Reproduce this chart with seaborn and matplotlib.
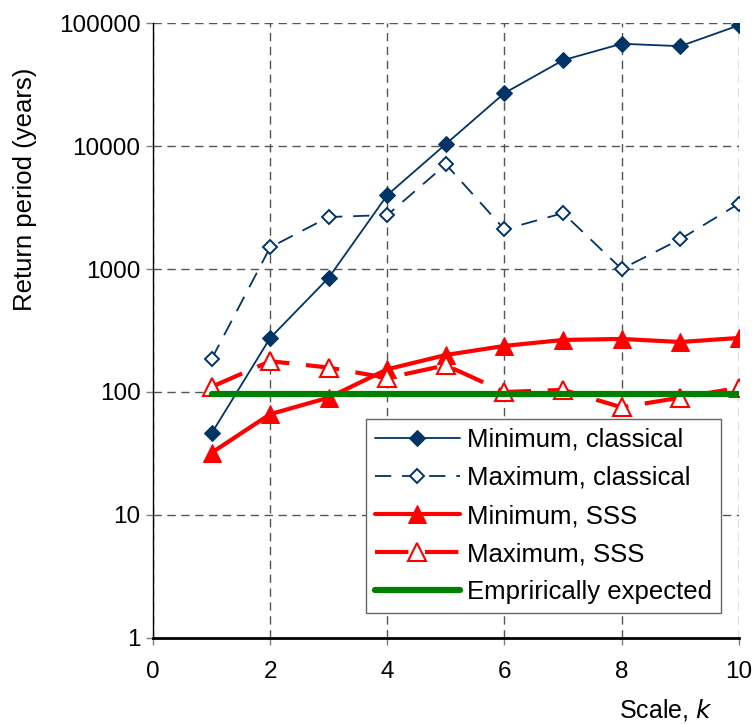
import numpy as np
import pandas as pd
import matplotlib
matplotlib.use('Agg')
import matplotlib.pyplot as plt
import seaborn as sns

# scale k
scale_k = [1, 2, 3, 4, 5, 6, 7, 8, 9, 10]

# return periods (years)
min_classical = [46, 275, 850, 4000, 10400, 27000, 50000, 68000, 65000, 96000]
max_classical = [185, 1500, 2650, 2750, 7100, 2100, 2850, 1000, 1750, 3400]
min_sss = [32, 66, 90, 153, 200, 237, 265, 270, 255, 275]
max_sss = [110, 178, 158, 130, 165, 100, 104, 75, 90, 108]
empirical = [97] * 10

y_ticks = [1, 10, 100, 1000, 10000, 100000]
x_ticks = [0, 2, 4, 6, 8, 10]

sns.set_style("white")
plt.rcParams['font.family'] = ['Liberation Sans', 'DejaVu Sans']
plt.rcParams['text.color'] = 'black'
plt.rcParams['axes.labelcolor'] = 'black'
plt.rcParams['xtick.labelcolor'] = 'black'
plt.rcParams['ytick.labelcolor'] = 'black'

blue = '#003366'
red = '#FF0000'
green = '#008000'

fig = plt.figure(figsize=(7.55, 7.24), dpi=100)
ax = fig.add_axes([0.2026, 0.119, 0.776, 0.849])

sns.lineplot(x=scale_k, y=min_classical, ax=ax, color=blue, linewidth=1.3,
             marker='D', markersize=8, markeredgecolor=blue, markerfacecolor=blue,
             label='Minimum, classical')
sns.lineplot(x=scale_k, y=max_classical, ax=ax, color=blue, linewidth=1.3,
             marker='D', markersize=7.5, markeredgecolor=blue, markerfacecolor='white',
             markeredgewidth=1.4, dashes=(9, 6), label='Maximum, classical')
sns.lineplot(x=scale_k, y=min_sss, ax=ax, color=red, linewidth=3,
             marker='^', markersize=13, markeredgecolor=red, markerfacecolor=red,
             label='Minimum, SSS')
sns.lineplot(x=scale_k, y=max_sss, ax=ax, color=red, linewidth=3,
             marker='^', markersize=13, markeredgecolor=red, markerfacecolor='white',
             markeredgewidth=1.5, dashes=(8, 4), label='Maximum, SSS')
sns.lineplot(x=scale_k, y=empirical, ax=ax, color=green, linewidth=4.5,
             label='Emprirically expected')

ax.set_yscale('log')
ax.set_xlim(0, 10)
ax.set_ylim(1, 100000)
ax.set_xticks(x_ticks)
ax.set_xticklabels([str(t) for t in x_ticks])
ax.set_yticks(y_ticks)
ax.set_yticklabels([str(t) for t in y_ticks])
ax.minorticks_off()
ax.tick_params(axis='both', labelsize=17.5, direction='out', length=5, width=1,
               color='#808080', bottom=True, left=True)
ax.tick_params(axis='x', pad=12)
ax.tick_params(axis='y', pad=4)

ax.grid(True, color='#555555', linestyle=(0, (6, 4)), linewidth=1)
for s in ['top', 'right']:
    ax.spines[s].set_visible(False)
ax.spines['left'].set_color('black')
ax.spines['left'].set_linewidth(1)
ax.spines['bottom'].set_color('black')
ax.spines['bottom'].set_linewidth(2)

ax.set_ylabel('Return period (years)', fontsize=18.5)
ax.yaxis.set_label_coords(-0.198, 0.73)
ax.set_xlabel('Scale, $\\it{k}$', fontsize=18, ha='right')
ax.xaxis.set_label_coords(0.955, -0.096)

leg = ax.legend(loc='lower right', bbox_to_anchor=(0.97, 0.04), fontsize=18.5,
                frameon=True, fancybox=False, framealpha=1, edgecolor='#666666',
                handlelength=3.3, handletextpad=0.3, borderpad=0.35,
                labelspacing=0.55, borderaxespad=0)
leg.get_frame().set_linewidth(1)

plt.savefig('out.png', dpi=100)
plt.close()
